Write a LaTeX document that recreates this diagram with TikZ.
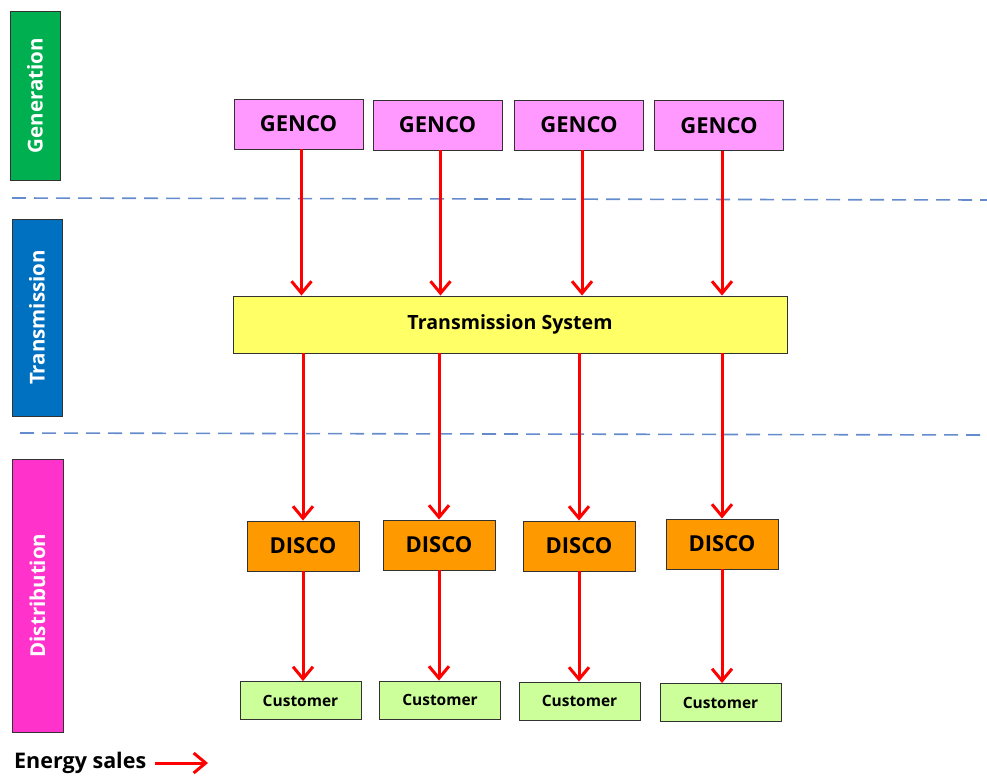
\documentclass[tikz,border=0pt]{standalone}
\usepackage{fontspec}
\setmainfont{Open Sans}
\usetikzlibrary{arrows.meta}
\definecolor{gencol}{RGB}{0,176,80}
\definecolor{trancol}{RGB}{0,112,192}
\definecolor{distcol}{RGB}{255,51,204}
\definecolor{gencofill}{RGB}{255,153,255}
\definecolor{tsfill}{RGB}{255,255,102}
\definecolor{discofill}{RGB}{255,153,0}
\definecolor{custfill}{RGB}{204,255,153}
\definecolor{sepcol}{RGB}{100,140,205}
\definecolor{edgecol}{RGB}{50,50,50}
\tikzset{
  stagebox/.style={draw=edgecol, line width=0.9pt, inner sep=0pt, text=white,
    font=\bfseries\fontsize{20.5}{24}\selectfont, rotate=90},
  unitbox/.style={draw=edgecol, line width=0.9pt, inner sep=0pt,
    font=\bfseries\fontsize{22}{26}\selectfont},
  custbox/.style={draw=edgecol, line width=0.9pt, inner sep=0pt, fill=custfill,
    minimum width=121pt, minimum height=38pt, font=\bfseries\fontsize{15.5}{18}\selectfont},
  flow/.style={draw=red, line width=3pt,
    -{Straight Barb[length=12pt,width=20pt,line width=3pt]}},
  separator/.style={draw=sepcol, line width=1.6pt, dash pattern=on 14pt off 8pt}
}
\begin{document}
\begin{tikzpicture}[x=1pt,y=-1pt]
\useasboundingbox (0,0) rectangle (987,776);

% stage labels
\node[stagebox, fill=gencol, minimum width=169pt, minimum height=50pt] (gen) at (35,95.5) {Generation};
\node[stagebox, fill=trancol, minimum width=197pt, minimum height=50pt] (tra) at (37,317.5) {Transmission};
\node[stagebox, fill=distcol, minimum width=273pt, minimum height=51pt] (dis) at (37.5,595.5) {Distribution};

% separators
\coordinate (s1a) at (12,198);
\coordinate (s1b) at (987,200);
\coordinate (s2a) at (20,433);
\coordinate (s2b) at (987,435);
\draw[separator] (s1a) -- (s1b);
\draw[separator] (s2a) -- (s2b);

% generators
\foreach \n/\x/\y in {1/298.5/124, 2/437.5/125, 3/579/125, 4/719/125.5}
  \node[unitbox, fill=gencofill, minimum width=129pt, minimum height=50pt] (g\n) at (\x,\y) {GENCO};

% transmission system
\node[unitbox, fill=tsfill, minimum width=554pt, minimum height=57pt,
  font=\bfseries\fontsize{19.6}{24}\selectfont] (ts) at (510,324.5) {Transmission System};

% distribution companies
\foreach \n/\x/\y in {1/303/546, 2/439/545, 3/579/546, 4/722/544}
  \node[unitbox, fill=discofill, minimum width=112pt, minimum height=50pt] (d\n) at (\x,\y) {DISCO};

% customers
\foreach \n/\x/\y in {1/300.5/700.5, 2/440/700, 3/579.5/701, 4/720.5/702.5}
  \node[custbox] (c\n) at (\x,\y) {Customer};

% energy flows
\foreach \n in {1,...,4} {
  \draw[flow] ([xshift=3pt]g\n.south) -- ([xshift=3pt]g\n.south |- ts.north);
  \draw[flow] (d\n.north |- ts.south) -- (d\n.north);
  \draw[flow] (d\n.south) -- (d\n.south |- c\n.north);
}

% legend
\node[anchor=west, inner sep=0pt, font=\bfseries\fontsize{21.5}{25}\selectfont] (es) at (14,763) {Energy sales};
\coordinate (esEnd) at (208,763);
\draw[flow] ([xshift=9pt]es.east) -- (esEnd);
\end{tikzpicture}
\end{document}
